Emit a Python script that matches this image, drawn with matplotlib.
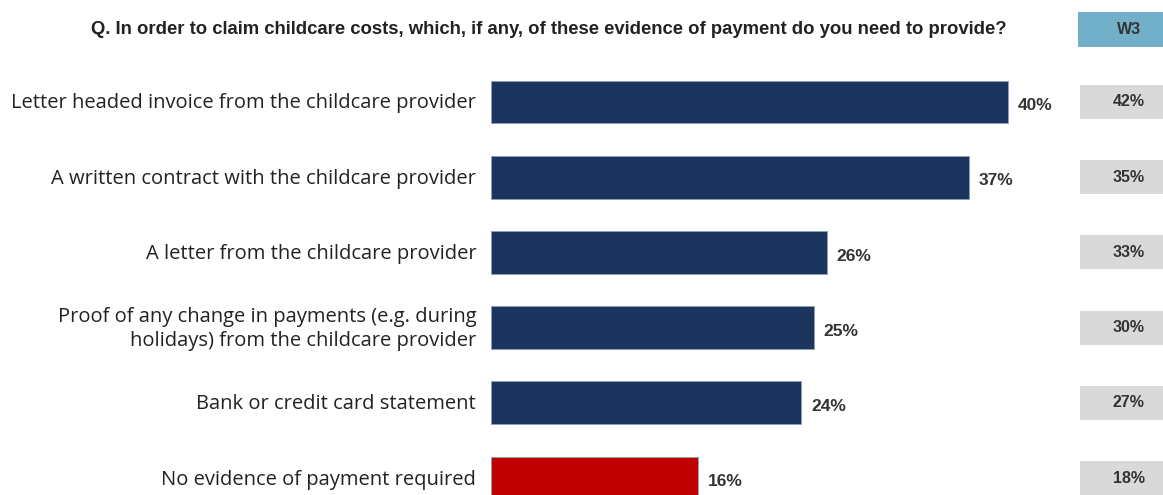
import matplotlib.pyplot as plt
from matplotlib import font_manager

categories = [
    "Letter headed invoice from the childcare provider",
    "A written contract with the childcare provider",
    "A letter from the childcare provider",
    "Proof of any change in payments (e.g. during\nholidays) from the childcare provider",
    "Bank or credit card statement",
    "No evidence of payment required",
]
current = [40, 37, 26, 25, 24, 16]
wave3 = [42, 35, 33, 30, 27, 18]
wave_label = "W3"
question = "Q. In order to claim childcare costs, which, if any, of these evidence of payment do you need to provide?"

navy = "#1C355E"
red = "#C00000"
grey = "#D9D9D9"
blue = "#72B0C9"

names = {f.name for f in font_manager.fontManager.ttflist}
narrow = "Liberation Sans Narrow" if "Liberation Sans Narrow" in names else "Liberation Sans"

fig = plt.figure(figsize=(11.63, 4.95), dpi=100)
ax = fig.add_axes([491 / 1163, 0, 672 / 1163, 1])
ax.set_xlim(0, 672 / 12.925)
ax.set_ylim(5.226, -1.356)
ax.axis("off")

ypos = list(range(len(categories)))
colors = [navy] * (len(current) - 1) + [red]
ax.barh(ypos, current, height=0.57, color=colors, edgecolor="#8DA0BC", linewidth=0.6)

for y, v, lab in zip(ypos, current, categories):
    ax.text(v + 0.75, y + 0.05, f"{v}%", ha="left", va="center",
            fontsize=12.5, fontweight="bold", color="#333333", family="Liberation Sans")
    ax.text(-1.15, y + 0.02, lab, ha="right", va="center", fontsize=14.5,
            color="#222222", family="Open Sans", linespacing=1.25)

# previous wave comparison column
box_left = 45.6
box_w = 7.0
ax.barh(ypos, [box_w] * len(wave3), left=box_left, height=0.45, color=grey)
for y, v in zip(ypos, wave3):
    ax.text(box_left + 3.75, y, f"{v}%", ha="center", va="center",
            fontsize=11.5, fontweight="bold", color="#333333", family="Liberation Sans")

ax.barh([-0.96], [box_w], left=box_left - 0.15, height=0.46, color=blue)
ax.text(box_left + 3.75, -0.96, wave_label, ha="center", va="center",
        fontsize=11.5, fontweight="bold", color="#333333", family="Liberation Sans")

fig.text(549 / 1163, 1 - 30 / 495, question, ha="center", va="center",
         fontsize=13.3, fontweight="bold", color="#222222", family=narrow)

fig.savefig("out.png", dpi=100)
